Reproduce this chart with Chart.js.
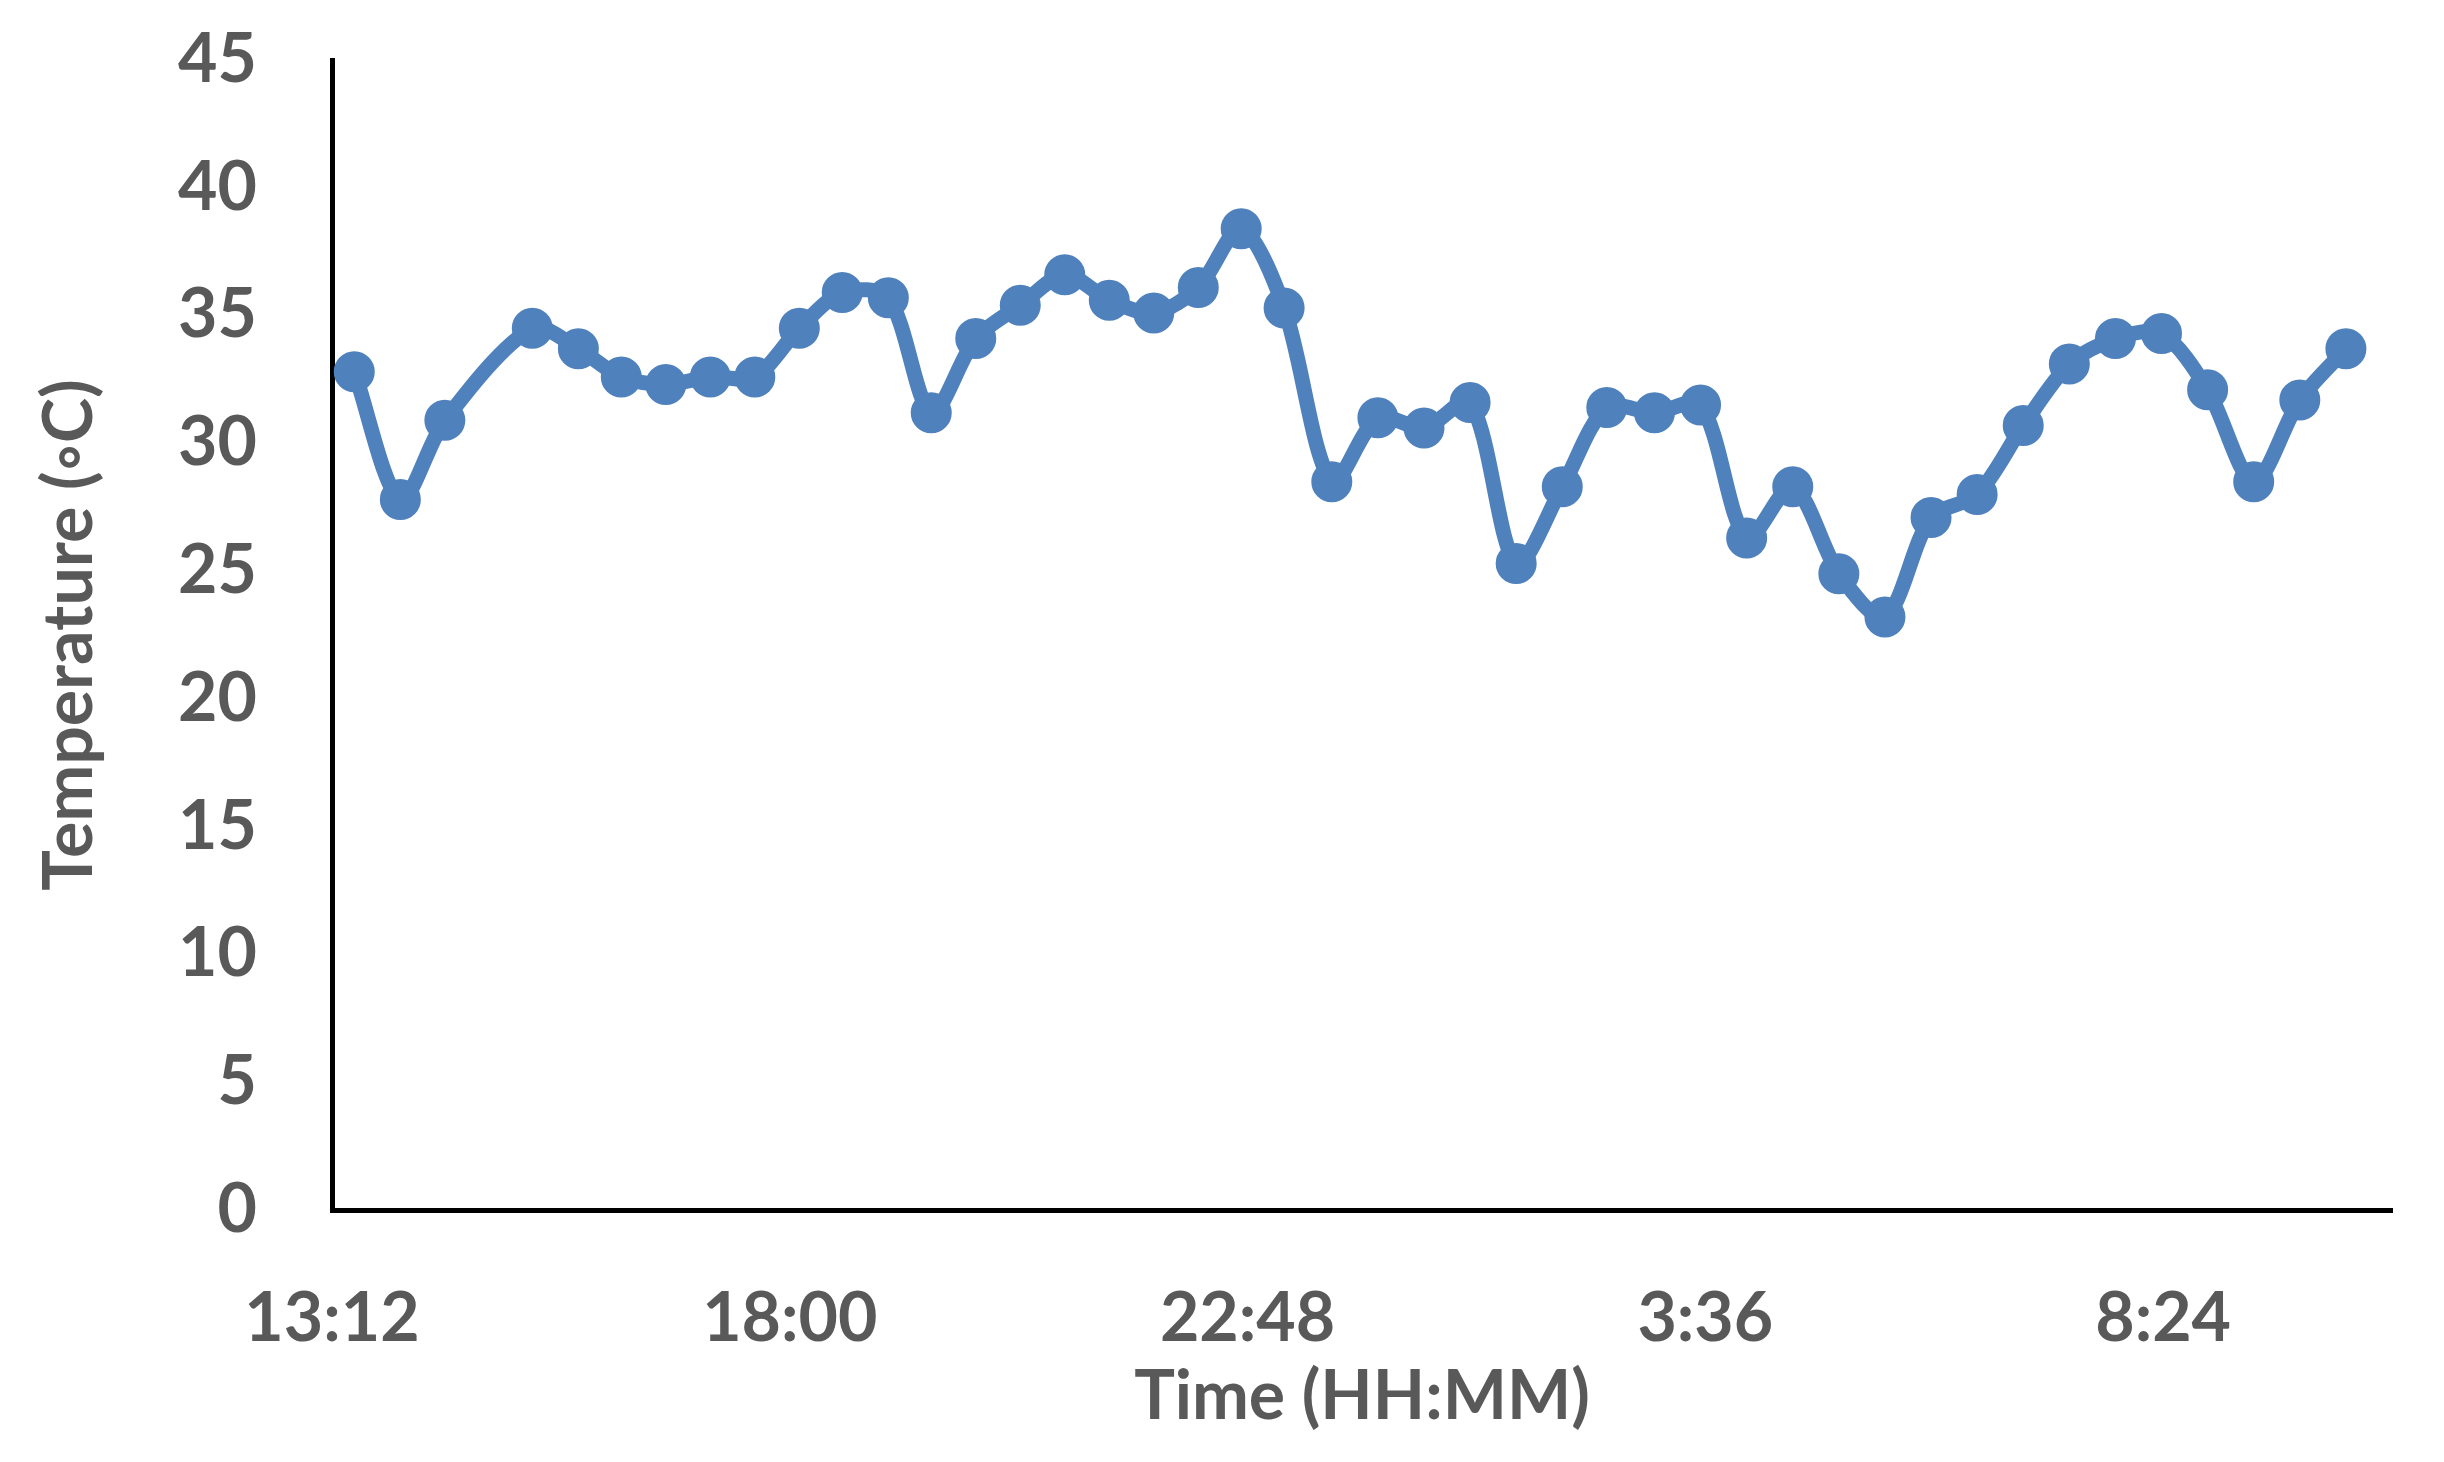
<!DOCTYPE html>
<html>
<head>
<meta charset="utf-8">
<script src="https://cdn.jsdelivr.net/npm/chart.js@4.4.1/dist/chart.umd.min.js"></script>
<style>
  html, body { margin: 0; padding: 0; background: #fff; }
  #wrap { width: 2444px; height: 1462px; }
</style>
</head>
<body>
<div id="wrap"><canvas id="myChart"></canvas></div>
<script>
// data
const times = ['13:26', '13:55', '14:23', '15:18', '15:47', '16:14', '16:42', '17:10',
  '17:38', '18:06', '18:33', '19:02', '19:29', '19:57', '20:25', '20:53', '21:21', '21:49',
  '22:17', '22:44', '23:11', '23:41', '0:10', '0:39', '1:08', '1:37', '2:06', '2:34',
  '3:04', '3:33', '4:02', '4:31', '5:00', '5:29', '5:58', '6:27', '6:56', '7:25', '7:54',
  '8:23', '8:52', '9:21', '9:50', '10:19'];
const temps = [32.8, 27.8, 30.9, 34.5, 33.7, 32.6, 32.3, 32.6, 32.6, 34.5, 35.9, 35.7,
  31.2, 34.1, 35.4, 36.6, 35.6, 35.1, 36.1, 38.4, 35.3, 28.5, 31.0, 30.6, 31.6, 25.3,
  28.3, 31.4, 31.2, 31.5, 26.3, 28.3, 24.9, 23.2, 27.1, 28.0, 30.7, 33.1, 34.1, 34.3,
  32.1, 28.5, 31.7, 33.7];
const xTickLabels = ['13:12', '18:00', '22:48', '3:36', '8:24'];
const xRange = ['13:12', '10:48'];
const yTicks = [0, 5, 10, 15, 20, 25, 30, 35, 40, 45];

// minutes since midnight of first day; hours before noon belong to next day
function toMin(s) {
  const p = s.split(':');
  let m = parseInt(p[0]) * 60 + parseInt(p[1]);
  if (parseInt(p[0]) < 12) m += 1440;
  return m;
}
function fmt(v) {
  const h = Math.floor(v / 60) % 24;
  const m = Math.round(v % 60);
  return h + ':' + (m < 10 ? '0' : '') + m;
}

const points = times.map((t, i) => ({ x: toMin(t), y: temps[i] }));
const grey = '#595959';
const blue = 'rgb(79, 129, 189)';

const ctx = document.getElementById('myChart');

new Chart(ctx, {
  type: 'line',
  data: {
    datasets: [{
      label: 'Temperature',
      data: points,
      borderColor: blue,
      backgroundColor: blue,
      borderWidth: 15,
      pointRadius: 19,
      pointBorderWidth: 3,
      pointBackgroundColor: blue,
      pointBorderColor: blue,
      tension: 0.3,
      fill: false
    }]
  },
  options: {
    responsive: true,
    maintainAspectRatio: false,
    animation: false,
    layout: { padding: { top: 60, right: 52, left: 0, bottom: 0 } },
    plugins: {
      legend: { display: false },
      tooltip: { enabled: false }
    },
    scales: {
      x: {
        type: 'linear',
        min: toMin(xRange[0]),
        max: toMin(xRange[1]),
        afterBuildTicks: (scale) => {
          scale.ticks = xTickLabels.map(l => ({ value: toMin(l) }));
        },
        afterFit: (scale) => { scale.height = 252; },
        grid: { display: false, drawTicks: false },
        border: { display: true, color: '#000', width: 5 },
        ticks: {
          color: grey,
          padding: 68,
          maxRotation: 0,
          autoSkip: false,
          font: { family: 'Lato', size: 68, weight: 'bold' },
          callback: (v) => fmt(v)
        },
        title: {
          display: true,
          text: 'Time (HH:MM)',
          color: grey,
          padding: { top: 0, bottom: 24 },
          font: { family: 'Lato', size: 68, weight: 'bold' }
        }
      },
      y: {
        min: 0,
        max: 45,
        afterBuildTicks: (scale) => {
          scale.ticks = yTicks.map(v => ({ value: v }));
        },
        afterFit: (scale) => {
          scale.width = 332;
          scale.paddingTop = 0;
          scale.paddingBottom = 0;
        },
        grid: { display: false, drawTicks: false },
        border: { display: true, color: '#000', width: 5 },
        ticks: {
          color: grey,
          padding: 75,
          font: { family: 'Lato', size: 68, weight: 'bold' }
        },
        title: {
          display: true,
          text: 'Temperature (\u25E6C)',
          color: grey,
          padding: { top: 29, bottom: 0 },
          font: { family: 'Lato', size: 68, weight: 'bold' }
        }
      }
    }
  }
});
</script>
</body>
</html>
